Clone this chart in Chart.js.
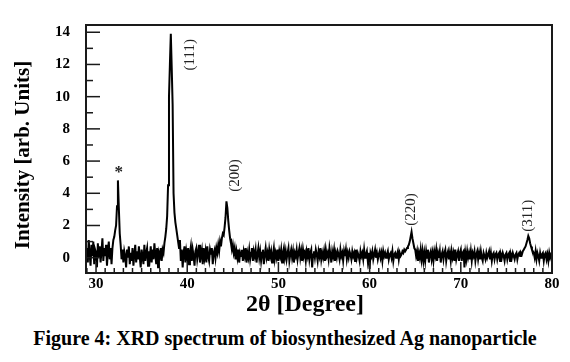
<!DOCTYPE html>
<html>
<head>
<meta charset="utf-8">
<script src="https://cdn.jsdelivr.net/npm/chart.js@4.4.0/dist/chart.umd.min.js"></script>
<style>
  html, body { margin: 0; padding: 0; background: #fff; }
  #wrap { position: relative; width: 570px; height: 362px; }
  #chartBox { position: absolute; left: 0; top: 0; width: 570px; height: 318px; }
  #caption {
    position: absolute; left: 0; top: 327px; width: 570px; text-align: center;
    font-family: "Liberation Serif", "Times New Roman", serif; font-weight: bold;
    font-size: 20px; color: #000;
  }
</style>
</head>
<body>
<div id="wrap">
  <div id="chartBox"><canvas id="xrd" width="570" height="318"></canvas></div>
  <div id="caption">Figure 4: XRD spectrum of biosynthesized Ag nanoparticle</div>
</div>
<script>
// 2-theta grid: starts at 29.0 deg, one reading every 0.1 deg
const twoThetaStart = 29.0;
const twoThetaStep = 0.1;

// intensity readings, one row per degree (29.0 .. 29.9, 30.0 .. 30.9, ...)
const intensity = [
  0.6, -0.3, 1.1, 0.2, -0.5, 0.8, 0.1, 1.0, -0.4, 0.5,
  0.3, -0.6, 0.9, 0.0, 0.7, -0.3, 0.4, 1.2, -0.2, 0.6,
  0.1, 0.8, -0.5, 0.4, 1.0, -0.1, 0.6, -0.4, 0.6, 1.1,
  1.3, 1.7, 2.0, 3.2, 4.8, 3.1, 1.5, 0.8, -0.1, 0.5,
  -0.3, 0.4, 0.1, -0.6, 0.5, 0.0, 0.7, -0.4, 0.3, -0.2,
  0.6, -0.5, 0.2, 0.8, -0.3, 0.4, -0.1, 0.7, 0.0, -0.6,
  0.5, 0.1, -0.4, 0.8, -0.2, 0.3, 0.6, -0.5, 0.4, 0.0,
  0.7, -0.3, 0.5, -0.1, 0.9, 0.2, -0.4, 0.6, -0.6, 0.3,
  0.1, 0.6, -0.2, 0.5, 0.3, 0.9, 1.3, 1.8, 2.6, 4.5,
  10.0, 12.0, 13.9, 11.8, 9.5, 4.0, 2.8, 2.2, 1.8, 1.4,
  1.0, 0.6, 1.1, -0.2, 0.5, -0.6, 0.3, 0.7, -0.3, 0.4,
  0.0, 0.6, -0.4, 0.3, 0.7, -0.2, 0.5, 0.1, -0.5, 0.4,
  0.6, -0.1, 0.3, 0.8, -0.3, 0.2, 0.5, -0.4, 0.6, 0.0,
  0.4, -0.3, 0.7, 0.1, -0.2, 0.5, 0.2, 0.6, -0.4, 0.3,
  0.5, 0.0, 0.6, 0.3, 0.8, 0.4, 1.0, 0.7, 1.2, 1.5,
  1.4, 1.9, 2.5, 3.5, 3.1, 2.3, 1.7, 1.2, 0.9, 0.5,
  0.8, 0.3, 0.6, -0.1, 0.4, 0.0, 0.5, -0.3, 0.3, 0.1,
  0.5, -0.2, 0.4, 0.1, 0.6, -0.3, 0.3, 0.0, 0.5, -0.1,
  0.3, 0.6, -0.2, 0.4, 0.1, 0.5, -0.3, 0.2, 0.6, 0.0,
  0.4, -0.2, 0.3, 0.5, -0.4, 0.2, 0.6, 0.0, 0.3, -0.2,
  0.5, 0.1, 0.4, -0.3, 0.2, 0.6, -0.1, 0.3, 0.0, 0.5,
  -0.2, 0.4, 0.1, 0.5, -0.3, 0.3, 0.6, 0.0, 0.4, -0.1,
  0.3, 0.6, -0.2, 0.2, 0.5, 0.0, 0.4, -0.3, 0.3, 0.1,
  0.5, -0.1, 0.3, 0.6, 0.0, 0.4, -0.2, 0.5, 0.1, 0.3,
  -0.2, 0.4, 0.1, 0.6, -0.1, 0.3, 0.5, -0.6, 0.2, 0.4,
  0.0, 0.5, 0.2, -0.2, 0.4, 0.1, 0.6, -0.1, 0.3, 0.0,
  0.4, -0.2, 0.5, 0.1, 0.3, -0.1, 0.6, 0.2, -0.3, 0.4,
  0.1, 0.5, -0.2, 0.3, 0.0, 0.4, 0.2, -0.1, 0.5, 0.1,
  0.3, -0.2, 0.4, 0.1, 0.5, -0.1, 0.3, 0.0, 0.4, 0.2,
  -0.1, 0.4, 0.1, 0.3, -0.2, 0.5, 0.0, 0.3, 0.1, -0.2,
  0.4, 0.1, 0.3, -0.1, 0.5, 0.0, 0.2, 0.4, -0.2, 0.3,
  -0.7, 0.3, 0.1, 0.4, -0.1, 0.2, 0.5, 0.0, 0.3, -0.1,
  0.2, 0.4, 0.0, 0.3, -0.2, 0.4, 0.1, 0.3, 0.0, 0.2,
  0.4, -0.1, 0.2, 0.3, 0.0, 0.4, -0.2, 0.2, 0.3, 0.0,
  0.2, 0.4, -0.1, 0.3, 0.1, 0.2, 0.4, 0.3, 0.5, 0.4,
  0.5, 0.6, 0.7, 0.8, 1.0, 1.3, 1.6, 1.2, 0.9, 0.6,
  0.5, 0.1, 0.4, -0.2, 0.3, 0.0, 0.5, -0.1, 0.4, -0.2,
  0.3, -0.2, 0.4, 0.0, 0.5, -0.3, 0.2, 0.4, -0.1, 0.3,
  -0.2, 0.4, 0.1, 0.5, -0.2, 0.3, 0.0, 0.4, -0.3, 0.2,
  0.4, -0.1, 0.3, 0.5, -0.2, 0.2, 0.4, -0.1, 0.3, -0.2,
  0.4, 0.0, 0.3, -0.2, 0.5, -0.1, 0.2, 0.4, -0.2, 0.3,
  0.5, -0.2, 0.3, 0.4, -0.6, 0.3, -0.1, 0.4, 0.0, 0.3,
  -0.1, 0.4, -0.2, 0.3, 0.1, 0.4, -0.2, 0.2, 0.4, -0.1,
  0.3, -0.1, 0.4, 0.0, -0.2, 0.3, 0.1, -0.1, 0.3, 0.0,
  0.2, 0.4, -0.1, 0.3, -0.2, 0.2, 0.3, -0.1, 0.2, 0.3,
  -0.1, 0.2, 0.3, -0.2, 0.2, 0.0, 0.3, 0.1, -0.2, 0.2,
  0.3, -0.1, 0.2, 0.3, -0.2, 0.2, 0.0, 0.3, 0.1, -0.1,
  0.2, 0.3, -0.1, 0.2, 0.3, 0.1, 0.3, 0.2, 0.4, 0.5,
  0.6, 0.7, 0.9, 1.1, 1.35, 1.2, 0.9, 0.7, 0.5, 0.4,
  0.3, 0.0, 0.4, -0.1, 0.3, 0.1, -0.2, 0.3, 0.0, 0.2,
  0.3, -0.2, 0.2, 0.3, -0.1, 0.2, -0.2, 0.3, 0.0, 0.2,
  0.1
];

// axis ticks that carry labels
const xTickLabels = [30, 40, 50, 60, 70, 80];
const yTickLabels = [0, 2, 4, 6, 8, 10, 12, 14];

// peak annotations (label, 2-theta, intensity position)
const peakLabels = ['*', '(111)', '(200)', '(220)', '(311)'];
const peakLabelX = [32.5, 40.3, 45.2, 64.5, 77.4];
const peakLabelY = [5.5, 12.6, 5.1, 3.0, 2.6];

const serif = '"Liberation Serif", "Times New Roman", serif';

const points = intensity.map((v, i) => ({ x: +(twoThetaStart + i * twoThetaStep).toFixed(2), y: v }));

// frame, inward tick marks, axis titles and peak labels
const decorPlugin = {
    id: 'decor',
    afterDraw(chart) {
        const ctx = chart.ctx;
        const a = chart.chartArea;
        const xs = chart.scales.x;
        const ys = chart.scales.y;
        ctx.save();

        ctx.strokeStyle = '#1a1a1a';
        ctx.lineWidth = 1.5;
        xs.ticks.forEach(t => {
            const px = xs.getPixelForValue(t.value);
            const len = t.value % 10 === 0 ? 11 : 5;
            ctx.beginPath();
            ctx.moveTo(px, a.bottom);
            ctx.lineTo(px, a.bottom - len);
            ctx.stroke();
        });
        ys.ticks.forEach(t => {
            const py = ys.getPixelForValue(t.value);
            const len = t.value % 2 === 0 ? 14 : 7;
            ctx.beginPath();
            ctx.moveTo(a.left, py);
            ctx.lineTo(a.left + len, py);
            ctx.stroke();
        });

        ctx.lineWidth = 2;
        ctx.strokeRect(a.left, a.top, a.right - a.left, a.bottom - a.top);

        ctx.fillStyle = '#000';
        ctx.textAlign = 'center';
        ctx.textBaseline = 'middle';
        ctx.font = 'bold 24px ' + serif;
        ctx.fillText('2\u03b8 [Degree]', 305, 305);

        ctx.save();
        ctx.translate(24, 155);
        ctx.rotate(-Math.PI / 2);
        ctx.font = 'bold 21px ' + serif;
        ctx.fillText('Intensity [arb. Units]', 0, 0);
        ctx.restore();

        peakLabels.forEach((txt, i) => {
            const px = xs.getPixelForValue(peakLabelX[i]);
            const py = ys.getPixelForValue(peakLabelY[i]);
            ctx.save();
            ctx.fillStyle = '#222';
            if (txt === '*') {
                ctx.font = 'bold 17px ' + serif;
                ctx.fillText(txt, px, py + 3);
            } else {
                ctx.translate(px, py);
                ctx.rotate(-Math.PI / 2);
                ctx.font = '15px ' + serif;
                ctx.fillText(txt, 0, 0);
            }
            ctx.restore();
        });

        ctx.restore();
    }
};

new Chart(document.getElementById('xrd'), {
    type: 'line',
    data: {
        datasets: [{
            data: points,
            borderColor: '#000',
            borderWidth: 2,
            pointRadius: 0,
            tension: 0,
            fill: false
        }]
    },
    options: {
        responsive: false,
        animation: false,
        events: [],
        layout: { padding: { top: 11, right: 18, left: 0, bottom: 0 } },
        plugins: {
            legend: { display: false },
            tooltip: { enabled: false }
        },
        scales: {
            x: {
                type: 'linear',
                min: 28.9,
                max: 80,
                afterFit: s => { s.height = 45; },
                grid: { display: false, drawTicks: false },
                border: { display: false },
                ticks: {
                    stepSize: 1,
                    includeBounds: false,
                    autoSkip: false,
                    maxRotation: 0,
                    padding: 2,
                    color: '#000',
                    font: { family: serif, size: 15, weight: 'bold' },
                    callback: v => xTickLabels.includes(v) ? String(v) : ''
                }
            },
            y: {
                min: -0.95,
                max: 14.45,
                afterFit: s => { s.width = 86; },
                grid: { display: false, drawTicks: false },
                border: { display: false },
                ticks: {
                    stepSize: 1,
                    includeBounds: false,
                    autoSkip: false,
                    padding: 16,
                    color: '#000',
                    font: { family: serif, size: 15, weight: 'bold' },
                    callback: v => yTickLabels.includes(v) ? String(v) : ''
                }
            }
        }
    },
    plugins: [decorPlugin]
});
</script>
</body>
</html>
